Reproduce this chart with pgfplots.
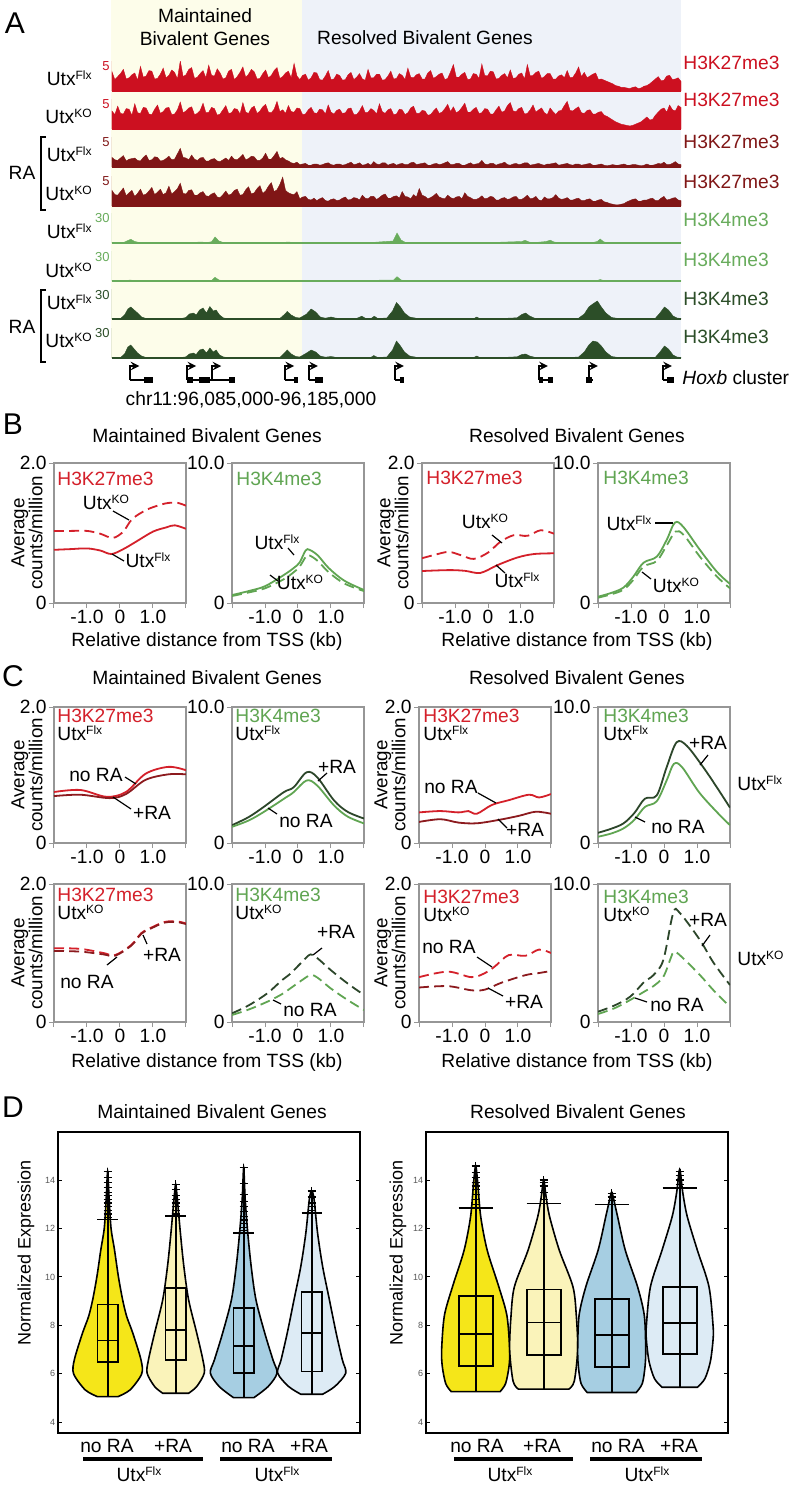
\documentclass[border=0pt]{standalone}
\usepackage{fontspec}
\setmainfont{Liberation Sans}
\usepackage{pgfplots}
\pgfplotsset{compat=1.18}

\definecolor{tred}{RGB}{204,16,32}
\definecolor{tdred}{RGB}{128,22,22}
\definecolor{tgreen}{RGB}{104,172,92}
\definecolor{tdgreen}{RGB}{44,78,40}
\definecolor{cred}{RGB}{212,32,42}
\definecolor{cdred}{RGB}{140,26,30}
\definecolor{cgreen}{RGB}{96,165,82}
\definecolor{cdgreen}{RGB}{44,70,42}
\definecolor{bgy}{RGB}{253,253,234}
\definecolor{bgb}{RGB}{238,242,249}
\definecolor{agray}{RGB}{150,150,150}
\definecolor{vA}{RGB}{245,230,25}
\definecolor{vB}{RGB}{250,243,186}
\definecolor{vC}{RGB}{166,206,226}
\definecolor{vD}{RGB}{221,235,245}

\newcommand{\fs}{\fontsize{9.6}{11}\selectfont}
\newcommand{\sx}[1]{\raisebox{3pt}{\fontsize{6}{6}\selectfont #1}}
\newcommand{\Flx}{Utx\sx{Flx}}
\newcommand{\KO}{Utx\sx{KO}}

\pgfplotsset{
 trk/.style={scale only axis, width=284.5pt, height=15pt, xmin=0, xmax=100, ymin=0, hide axis, anchor=south west},
 prof/.style={scale only axis, width=66pt, anchor=north west, xmin=-2, xmax=2, ymin=0,
   axis line style={agray, line width=0.6pt}, tick style={agray, line width=0.5pt},
   tick align=outside, major tick length=2.5pt,
   xtick={-2,-1,0,1,2}, xticklabels={,-1.0,0,1.0,}, xtick pos=bottom, ytick pos=left,
   ticklabel style={font=\fs}, xticklabel style={inner sep=1pt}, yticklabel style={inner sep=1pt},
   every axis plot/.append style={smooth, tension=0.55, line width=0.9pt, no marks}},
 kA/.style={prof, ymax=2, ytick={0,2}, yticklabels={0,2.0}},
 kB/.style={prof, ymax=10, ytick={0,10}, yticklabels={0,10.0}},
 dsh/.style={dash pattern=on 5pt off 2.6pt},
 vio/.style={scale only axis, width=151pt, height=150.5pt, anchor=north west,
   xmin=0.27, xmax=4.71, ymin=3.56, ymax=15.98, xtick=\empty,
   ytick={4,6,8,10,12,14}, yticklabels={4,6,8,10,12,14}, ytick pos=both, yticklabel pos=left,
   tick align=inside, major tick length=2pt, tick style={black, line width=0.5pt},
   axis line style={black, line width=0.8pt},
   yticklabel style={font=\fontsize{4.5}{5}\selectfont, text=black!65, inner sep=1.2pt}},
 vl/.style={draw=black, line width=0.8pt, smooth, tension=0.5},
 bx/.style={black, line width=0.9pt, sharp plot},
 om/.style={only marks, mark=+, mark size=2pt, black, mark options={line width=0.6pt}},
}

\begin{document}
\begin{tikzpicture}
\useasboundingbox (0,0) rectangle (396.5pt,-742.5pt);
\fill[white] (0,0) rectangle (396.5pt,-742.5pt);
\begin{scope}[x=0.5pt,y=-0.5pt]
 \fill[bgy] (111,0) rectangle (302,358);
 \fill[bgb] (302,0) rectangle (681,358);
\end{scope}

% ---------------- Panel A tracks ----------------
\begin{axis}[trk, ymax=5, at={(56pt,-45.5pt)}]
\addplot[fill=tred, draw=tred, line width=0.2pt] table[row sep=\\, header=false, x expr=\coordindex*0.5, y index=0]{
3.2\\1.9\\2.4\\2.9\\3.6\\2.0\\2.2\\2.7\\3.0\\1.8\\4.1\\2.3\\2.5\\3.4\\3.3\\2.0\\2.1\\2.8\\3.8\\2.2\\
2.6\\3.5\\3.1\\2.0\\5.0\\2.4\\2.7\\3.6\\3.9\\2.1\\2.3\\2.9\\3.4\\2.2\\4.3\\2.6\\2.5\\3.7\\3.0\\2.0\\
2.2\\3.3\\3.6\\1.9\\2.4\\3.1\\4.0\\2.3\\2.8\\3.6\\3.2\\2.0\\2.1\\2.9\\3.5\\2.2\\2.6\\3.4\\3.9\\2.1\\
2.4\\3.0\\3.3\\2.2\\4.6\\2.5\\1.9\\2.6\\2.8\\1.8\\2.2\\3.1\\3.0\\1.9\\1.8\\2.5\\3.4\\1.9\\2.0\\2.8\\
2.6\\1.8\\1.9\\2.7\\3.1\\1.9\\2.3\\2.9\\2.0\\1.8\\3.6\\2.2\\2.2\\2.8\\2.8\\1.8\\1.9\\2.5\\3.3\\2.0\\
2.1\\2.9\\2.6\\1.9\\3.8\\2.3\\2.2\\2.7\\2.9\\2.0\\2.0\\3.0\\3.4\\2.1\\2.4\\2.8\\3.0\\1.9\\2.1\\3.2\\
4.4\\2.3\\2.3\\2.8\\3.1\\1.9\\2.0\\2.9\\2.8\\2.1\\4.5\\2.6\\2.5\\3.3\\3.2\\2.0\\2.1\\2.6\\2.9\\2.2\\
3.5\\2.1\\2.2\\2.8\\3.0\\2.0\\4.4\\2.5\\2.6\\3.1\\3.3\\2.1\\2.4\\2.9\\2.9\\2.0\\2.0\\2.5\\2.7\\2.2\\
3.4\\2.2\\2.3\\3.0\\4.0\\2.4\\3.1\\2.2\\2.5\\2.8\\3.0\\1.9\\2.0\\1.8\\1.6\\1.4\\1.2\\0.9\\0.8\\0.6\\
0.6\\0.5\\0.4\\0.6\\0.7\\0.4\\0.5\\0.8\\0.9\\1.2\\1.6\\2.0\\2.4\\1.7\\1.8\\2.5\\2.6\\1.9\\2.0\\2.2\\
1.6\\} \closedcycle;
\addplot[tred!70, line width=0.5pt] coordinates {(0,0)(0,5)};
\addplot[tred, line width=0.8pt] coordinates {(0,0)(100,0)};
\end{axis}

\begin{axis}[trk, ymax=5, at={(56pt,-64.5pt)}]
\addplot[fill=tred, draw=tred, line width=0.2pt] table[row sep=\\, header=false, x expr=\coordindex*0.5, y index=0]{
3.0\\2.4\\3.8\\2.6\\2.5\\3.4\\3.3\\2.3\\4.2\\2.7\\2.6\\3.6\\3.5\\2.5\\2.4\\3.3\\4.0\\2.6\\2.9\\3.5\\
3.6\\2.4\\2.5\\3.2\\4.5\\2.7\\3.0\\3.5\\3.7\\2.4\\2.6\\3.1\\4.3\\2.7\\2.8\\3.6\\3.4\\2.3\\2.5\\3.2\\
3.9\\2.6\\2.7\\3.4\\3.3\\2.5\\4.4\\2.8\\2.6\\3.5\\3.8\\2.6\\3.0\\3.7\\4.1\\2.8\\2.7\\3.3\\4.6\\2.9\\
3.2\\2.6\\3.9\\2.9\\2.8\\3.5\\3.4\\2.4\\2.5\\3.2\\3.6\\2.7\\2.6\\3.3\\3.2\\2.5\\4.0\\2.8\\2.5\\3.1\\
3.3\\2.6\\2.7\\3.4\\3.5\\2.4\\2.4\\3.0\\3.9\\2.7\\2.8\\3.4\\3.1\\2.5\\4.2\\2.9\\2.6\\3.2\\3.4\\2.4\\
2.5\\3.3\\3.2\\2.4\\2.7\\3.5\\3.8\\2.6\\2.6\\3.1\\3.0\\2.3\\2.4\\3.0\\3.5\\2.6\\2.8\\3.4\\4.1\\2.9\\
3.7\\2.7\\3.0\\3.6\\4.3\\2.8\\2.8\\3.3\\3.6\\2.6\\2.7\\3.4\\3.3\\2.5\\2.5\\3.2\\3.8\\2.8\\3.0\\3.9\\
4.4\\3.0\\2.9\\3.4\\3.6\\2.5\\2.6\\3.2\\4.0\\2.8\\3.2\\3.5\\2.7\\2.4\\3.5\\2.9\\2.4\\3.0\\3.1\\3.9\\
4.6\\3.1\\3.0\\3.4\\3.7\\2.7\\2.6\\3.1\\3.2\\2.5\\2.5\\2.8\\2.9\\2.3\\2.1\\1.8\\1.5\\1.2\\1.0\\0.8\\
0.7\\0.6\\0.5\\0.6\\0.8\\1.0\\1.2\\1.6\\2.0\\1.5\\1.6\\2.3\\2.8\\3.3\\3.5\\2.8\\4.0\\3.2\\3.0\\3.9\\
3.6\\} \closedcycle;
\addplot[tred!70, line width=0.5pt] coordinates {(0,0)(0,5)};
\addplot[tred, line width=0.8pt] coordinates {(0,0)(100,0)};
\end{axis}

\begin{axis}[trk, ymax=5, at={(56pt,-83.5pt)}]
\addplot[fill=tdred, draw=tdred, line width=0.2pt] table[row sep=\\, header=false, x expr=\coordindex*0.5, y index=0]{
1.6\\1.2\\1.1\\1.5\\1.9\\1.0\\1.3\\1.4\\1.5\\1.1\\1.0\\1.6\\2.0\\1.1\\1.2\\1.7\\1.6\\1.0\\1.1\\1.4\\
1.8\\1.2\\1.3\\2.2\\3.1\\1.6\\1.5\\1.2\\2.0\\1.3\\1.1\\1.5\\1.6\\1.0\\1.0\\1.3\\1.4\\1.0\\0.9\\1.2\\
1.5\\1.1\\1.8\\1.3\\1.2\\1.6\\2.1\\1.2\\1.4\\1.8\\1.7\\1.1\\1.1\\1.5\\2.3\\1.3\\1.3\\1.9\\2.6\\1.4\\
1.6\\1.2\\1.0\\0.7\\0.6\\0.8\\0.4\\0.5\\0.6\\0.3\\0.3\\0.5\\0.5\\0.3\\0.4\\0.6\\0.7\\0.4\\0.3\\0.5\\
0.5\\0.3\\0.4\\0.6\\0.8\\0.4\\0.5\\0.7\\0.3\\0.4\\0.6\\0.3\\0.9\\0.5\\0.4\\0.7\\0.7\\0.3\\0.5\\0.6\\
0.3\\0.5\\0.6\\0.4\\0.4\\0.7\\0.8\\0.4\\0.5\\0.6\\0.7\\0.3\\0.3\\0.5\\0.6\\0.4\\0.5\\0.7\\0.9\\0.4\\
0.4\\0.6\\0.6\\0.3\\0.3\\0.5\\0.7\\0.4\\0.5\\0.6\\1.1\\0.5\\0.4\\0.6\\0.6\\0.3\\0.5\\0.6\\0.8\\0.4\\
0.3\\0.5\\0.6\\0.4\\0.5\\0.7\\0.7\\0.3\\0.4\\0.5\\0.6\\0.4\\0.3\\0.5\\0.5\\0.6\\0.7\\0.3\\0.4\\0.5\\
0.6\\0.4\\0.3\\0.5\\0.5\\0.3\\0.4\\0.5\\0.6\\0.3\\0.3\\0.4\\0.5\\0.3\\0.2\\0.3\\0.4\\0.3\\0.3\\0.4\\
0.5\\0.3\\0.3\\0.4\\0.4\\0.3\\0.2\\0.3\\0.5\\0.3\\0.3\\0.4\\0.6\\0.5\\0.8\\0.4\\0.4\\0.6\\0.9\\0.5\\
0.4\\} \closedcycle;
\addplot[tdred!70, line width=0.5pt] coordinates {(0,0)(0,5)};
\addplot[tdred, line width=0.8pt] coordinates {(0,0)(100,0)};
\end{axis}

\begin{axis}[trk, ymax=5, at={(56pt,-103pt)}]
\addplot[fill=tdred, draw=tdred, line width=0.2pt] table[row sep=\\, header=false, x expr=\coordindex*0.5, y index=0]{
2.6\\1.9\\1.8\\2.4\\3.0\\1.7\\2.2\\2.6\\1.6\\2.1\\2.8\\1.8\\2.0\\2.5\\3.1\\1.9\\2.3\\2.8\\1.9\\2.2\\
3.3\\2.0\\2.4\\2.9\\3.8\\2.1\\2.0\\2.6\\2.7\\1.8\\1.8\\2.2\\2.4\\1.7\\1.6\\2.0\\2.2\\1.5\\1.4\\1.9\\
2.5\\1.8\\2.0\\2.6\\2.8\\1.8\\1.9\\2.7\\3.2\\2.0\\2.2\\2.9\\3.4\\2.1\\2.5\\3.3\\3.9\\2.4\\2.7\\3.6\\
4.8\\2.6\\2.2\\2.0\\1.9\\2.4\\1.2\\1.5\\1.6\\1.1\\1.0\\1.3\\0.9\\1.2\\1.4\\0.9\\0.8\\1.1\\1.2\\0.9\\
1.0\\1.3\\1.5\\1.0\\1.1\\1.4\\1.3\\1.0\\1.8\\1.3\\1.2\\1.6\\1.6\\1.1\\1.4\\1.8\\2.0\\1.3\\1.3\\1.6\\
1.7\\1.3\\2.4\\1.6\\1.5\\1.2\\1.9\\1.5\\2.9\\1.8\\1.6\\1.2\\1.4\\1.7\\2.1\\1.5\\1.3\\1.2\\1.8\\1.4\\
1.2\\1.5\\1.6\\1.2\\2.2\\1.6\\1.4\\1.1\\1.1\\1.3\\1.7\\1.2\\1.3\\1.6\\1.5\\1.0\\1.0\\1.3\\1.4\\1.1\\
1.2\\1.5\\1.6\\1.1\\1.1\\1.4\\1.8\\1.2\\1.3\\1.6\\1.0\\0.9\\1.5\\1.2\\1.2\\1.4\\1.9\\1.3\\1.1\\1.2\\
1.4\\1.0\\1.0\\1.2\\1.3\\0.9\\0.9\\1.1\\1.2\\0.8\\0.8\\1.0\\1.1\\0.7\\0.6\\0.4\\0.3\\0.2\\0.2\\0.3\\
0.4\\0.7\\0.9\\1.1\\1.2\\0.8\\0.8\\1.0\\1.0\\1.2\\1.3\\0.9\\0.9\\1.3\\1.6\\1.0\\1.1\\1.3\\1.4\\1.0\\
0.9\\} \closedcycle;
\addplot[tdred!70, line width=0.5pt] coordinates {(0,0)(0,5)};
\addplot[tdred, line width=0.8pt] coordinates {(0,0)(100,0)};
\end{axis}

\begin{axis}[trk, ymax=30, at={(56pt,-121.5pt)}]
\addplot[fill=tgreen, draw=tgreen, line width=0.2pt] coordinates {
(0,0.2)(2,0.4)(2.8,2.5)(3.3,3.7)(4,1.5)(5,0.3)(10,0.2)(13.8,0.5)(15.8,1)(16.5,0.4)(17.5,1.2)(18.1,6)(18.8,2)(19.6,0.4)(22,0.3)(30,0.5)(31,1)(32,0.4)(35,0.6)(40,0.2)(45,0.3)(49.4,2)(50.1,10)(50.8,3)(51.6,0.4)(55,0.3)(64,0.6)(65,0.2)(72,1.5)(72.6,2.7)(73.3,1)(74,0.3)(76.3,1.5)(77,2.8)(77.7,1)(78.5,0.3)(84.5,0.5)(85.3,1.5)(85.8,4)(86.4,1.2)(87,0.3)(95,0.5)(97,0.4)(100,0.2)} \closedcycle;
\addplot[tgreen!80, line width=0.5pt] coordinates {(0,0)(0,30)};
\addplot[tgreen, line width=0.8pt] coordinates {(0,0)(100,0)};
\end{axis}

\begin{axis}[trk, ymax=30, at={(56pt,-140.5pt)}]
\addplot[fill=tgreen, draw=tgreen, line width=0.2pt] coordinates {
(0,0.2)(2.6,0.5)(3.2,1)(3.8,0.4)(5,0.2)(17.5,0.5)(18.1,3.7)(18.8,1)(19.6,0.2)(40,0.3)(49.5,1)(50.1,4.3)(50.8,1)(51.6,0.2)(72,0.3)(72.6,0.7)(73.3,0.2)(85.2,0.3)(85.8,1.5)(86.5,0.3)(100,0.2)} \closedcycle;
\addplot[tgreen!80, line width=0.5pt] coordinates {(0,0)(0,30)};
\addplot[tgreen, line width=0.8pt] coordinates {(0,0)(100,0)};
\end{axis}

\begin{axis}[trk, ymax=30, at={(56pt,-159.5pt)}]
\addplot[fill=tdgreen, draw=tdgreen, line width=0.2pt] coordinates {
(0,0.3)(1.5,0.5)(2.2,4)(2.8,10)(3.3,12)(3.9,9)(4.5,6)(5.2,2)(6,0.5)(8,0.3)(10,0.4)(12,0.3)(13.0,1.5)(13.6,5)(14.3,6)(14.8,4)(15.4,9)(16.0,11)(16.6,6)(17.2,12.5)(17.8,8)(18.3,9)(18.9,4)(19.6,1)(20.5,0.4)(25,0.3)(29.5,0.5)(30.2,4)(30.8,7.5)(31.5,4)(32.3,1.5)(33,1)(34.2,5)(35,10)(35.8,7)(36.6,2)(37.5,0.8)(38.5,2)(39.2,1)(40,0.4)(43,0.6)(43.9,2.8)(44.6,0.5)(45.6,0.8)(46.1,2.8)(46.7,0.5)(48.3,1)(49.3,8)(50,16.5)(50.7,12)(51.4,6)(52.3,2)(53.5,0.7)(55,0.6)(57,0.4)(60,0.3)(63.6,0.4)(64.1,2)(64.6,0.4)(68,0.4)(71.2,1.2)(72,4.5)(72.7,6)(73.4,3)(74.3,0.7)(76,0.4)(80,0.4)(82,0.8)(83,5)(83.8,12)(84.5,15)(85.3,18)(86,12)(86.8,6)(87.8,1.5)(89,0.5)(92,0.3)(95.5,0.8)(96.3,6)(97.1,12)(97.8,9)(98.6,3)(99.3,1)(100,0.5)} \closedcycle;
\addplot[tdgreen!80, line width=0.5pt] coordinates {(0,0)(0,30)};
\addplot[tdgreen, line width=0.8pt] coordinates {(0,0)(100,0)};
\end{axis}

\begin{axis}[trk, ymax=30, at={(56pt,-179pt)}]
\addplot[fill=tdgreen, draw=tdgreen, line width=0.2pt] coordinates {
(0,0.3)(1.5,0.5)(2.2,4)(2.8,11)(3.3,13)(3.9,9)(4.5,5)(5.2,2)(6,0.5)(8,0.3)(10,0.4)(12,0.3)(13.0,1.2)(13.6,4)(14.3,5)(14.8,3.5)(15.4,8)(16.0,9)(16.6,5)(17.2,10)(17.8,6)(18.3,8)(18.9,3)(19.6,1)(20.5,0.4)(25,0.3)(29.5,0.6)(30.2,4.5)(30.8,8)(31.5,4)(32.3,1.5)(33,1)(34.2,5)(35,8)(35.8,6)(36.6,2)(37.5,0.8)(38.5,1.5)(39.2,0.8)(40,0.4)(43,0.5)(44,0.8)(45.5,0.6)(46,2.5)(46.7,0.5)(48.3,1)(49.3,8)(50,17)(50.7,12)(51.4,6)(52.3,2)(53.5,0.7)(55,0.8)(57,0.5)(60,0.4)(63.6,0.5)(64.1,2)(64.6,0.5)(68,0.4)(71.2,1.2)(72,3.5)(72.7,4)(73.4,2)(74.3,0.7)(76,0.4)(80,0.4)(82,1)(83,6)(83.8,13)(84.5,17)(85.3,16)(86,12)(86.8,6)(87.8,1.5)(89,0.5)(92,0.3)(95.5,0.8)(96.3,6)(97.1,12)(97.8,9)(98.6,3)(99.3,1)(100,0.5)} \closedcycle;
\addplot[tdgreen!80, line width=0.5pt] coordinates {(0,0)(0,30)};
\addplot[tdgreen, line width=0.8pt] coordinates {(0,0)(100,0)};
\end{axis}

% gene track
\begin{axis}[trk, ymax=1, at={(56pt,-195pt)}, clip=false]
\addplot[black, line width=0.9pt] coordinates {(3.2,0.333)(7.2,0.333)};
\addplot[black, line width=3pt] coordinates {(5.6,0.333)(7.2,0.333)};
\addplot[black, line width=0.9pt] coordinates {(13.2,0.333)(21.6,0.333)};
\addplot[black, line width=3pt] coordinates {(13.2,0.333)(14.2,0.333)};
\addplot[black, line width=3pt] coordinates {(15.3,0.333)(17.3,0.333)};
\addplot[black, line width=3pt] coordinates {(20.6,0.333)(21.6,0.333)};
\addplot[black, line width=0.9pt] coordinates {(30.4,0.333)(32.7,0.333)};
\addplot[black, line width=3pt] coordinates {(31.9,0.333)(32.7,0.333)};
\addplot[black, line width=0.9pt] coordinates {(34.6,0.333)(37.1,0.333)};
\addplot[black, line width=3pt] coordinates {(35.7,0.333)(37.1,0.333)};
\addplot[black, line width=0.9pt] coordinates {(49.7,0.333)(51.3,0.333)};
\addplot[black, line width=3pt] coordinates {(50.6,0.333)(51.3,0.333)};
\addplot[black, line width=0.9pt] coordinates {(75.0,0.333)(77.5,0.333)};
\addplot[black, line width=3pt] coordinates {(75.0,0.333)(75.8,0.333)};
\addplot[black, line width=3pt] coordinates {(76.6,0.333)(77.5,0.333)};
\addplot[black, line width=0.9pt] coordinates {(83.8,0.333)(84.6,0.333)};
\addplot[black, line width=3pt] coordinates {(83.9,0.25)(83.9,0.45)};
\addplot[black, line width=0.9pt] coordinates {(96.8,0.333)(98.8,0.333)};
\addplot[black, line width=3pt] coordinates {(97.5,0.333)(98.8,0.333)};
\addplot[black, line width=0.9pt, -stealth] coordinates {(3.2,0.333)(3.2,0.8)(4.8,0.8)};
\addplot[black, line width=0.9pt, -stealth] coordinates {(13.2,0.333)(13.2,0.8)(14.8,0.8)};
\addplot[black, line width=0.9pt, -stealth] coordinates {(17.6,0.333)(17.6,0.8)(19.2,0.8)};
\addplot[black, line width=0.9pt, -stealth] coordinates {(30.4,0.333)(30.4,0.8)(32.0,0.8)};
\addplot[black, line width=0.9pt, -stealth] coordinates {(34.6,0.333)(34.6,0.8)(36.2,0.8)};
\addplot[black, line width=0.9pt, -stealth] coordinates {(49.7,0.333)(49.7,0.8)(51.3,0.8)};
\addplot[black, line width=0.9pt, -stealth] coordinates {(75.0,0.333)(75.0,0.8)(76.6,0.8)};
\addplot[black, line width=0.9pt, -stealth] coordinates {(83.8,0.333)(83.8,0.8)(85.4,0.8)};
\addplot[black, line width=0.9pt, -stealth] coordinates {(96.8,0.333)(96.8,0.8)(98.4,0.8)};
\end{axis}

% ---------------- Panel B ----------------
\begin{axis}[kA, height=70pt, at={(27pt,-231.5pt)}]
\addplot[cred, dsh] coordinates {(-2,1.03)(-1.5,1.03)(-1,1.03)(-0.6,0.99)(-0.22,0.93)(0.1,1.02)(0.37,1.2)(0.8,1.33)(1.2,1.4)(1.47,1.43)(1.75,1.43)(2,1.39)};
\addplot[cred] coordinates {(-2,0.76)(-1.5,0.77)(-1,0.78)(-0.6,0.75)(-0.26,0.70)(0.1,0.77)(0.5,0.88)(1.0,1.02)(1.4,1.08)(1.66,1.11)(2,1.06)};
\end{axis}
\begin{axis}[kB, height=70pt, at={(116pt,-231.5pt)}]
\addplot[cgreen, dsh] coordinates {(-2,0.5)(-1.5,0.75)(-1,1.05)(-0.43,1.7)(-0.13,2.2)(0.05,2.6)(0.25,3.35)(0.35,3.4)(0.6,3.0)(0.93,2.2)(1.4,1.4)(2,0.85)};
\addplot[cgreen] coordinates {(-2,0.57)(-1.5,0.85)(-1,1.2)(-0.43,2.0)(-0.13,2.5)(0.05,2.9)(0.23,3.75)(0.35,3.8)(0.6,3.4)(0.93,2.5)(1.4,1.6)(2,0.93)};
\end{axis}
\begin{axis}[kA, height=70pt, at={(211pt,-231.5pt)}]
\addplot[cred, dsh] coordinates {(-2,0.64)(-1.6,0.69)(-1.19,0.73)(-0.8,0.68)(-0.43,0.63)(0,0.72)(0.38,0.876)(0.79,0.97)(1.2,0.96)(1.6,1.04)(2,0.99)};
\addplot[cred] coordinates {(-2,0.457)(-1.19,0.47)(-0.7,0.46)(-0.23,0.43)(0.28,0.54)(0.89,0.65)(1.4,0.70)(2,0.71)};
\end{axis}
\begin{axis}[kB, height=70pt, at={(299pt,-231.5pt)}]
\addplot[cgreen, dsh] coordinates {(-2,0.38)(-1.6,0.62)(-1.23,0.95)(-0.93,1.65)(-0.62,2.6)(-0.22,3.0)(0.08,4.1)(0.35,5.1)(0.6,4.85)(1.09,3.3)(1.6,1.9)(2,1.05)};
\addplot[cgreen] coordinates {(-2,0.45)(-1.6,0.72)(-1.23,1.1)(-0.93,1.88)(-0.62,2.88)(-0.22,3.31)(0.08,4.5)(0.33,5.74)(0.58,5.45)(1.09,3.79)(1.6,2.24)(2,1.36)};
\end{axis}

% ---------------- Panel C row 1 ----------------
\begin{axis}[kA, height=68pt, at={(27pt,-353.5pt)}]
\addplot[cred] coordinates {(-2,0.75)(-1.2,0.78)(-0.41,0.68)(0.18,0.75)(0.78,1.02)(1.47,1.12)(2,1.07)};
\addplot[cdred] coordinates {(-2,0.69)(-1.2,0.71)(-0.31,0.66)(0.18,0.72)(0.78,0.93)(1.47,1.01)(2,1.01)};
\end{axis}
\begin{axis}[kB, height=68pt, at={(116pt,-353.5pt)}]
\addplot[cdgreen] coordinates {(-2,1.31)(-1.5,1.9)(-1.04,2.65)(-0.43,3.74)(-0.13,4.1)(0.26,5.2)(0.58,4.84)(1.09,3.14)(1.5,2.3)(2,1.8)};
\addplot[cgreen] coordinates {(-2,1.19)(-1.5,1.65)(-1.04,2.28)(-0.43,3.25)(-0.13,3.74)(0.26,4.6)(0.58,4.23)(1.09,2.77)(1.5,1.95)(2,1.44)};
\end{axis}
\begin{axis}[kA, height=68pt, at={(209.5pt,-353.5pt)}]
\addplot[cred] coordinates {(-2,0.45)(-1.35,0.47)(-0.8,0.45)(-0.5,0.47)(-0.25,0.43)(0.21,0.56)(0.72,0.63)(1.33,0.71)(1.64,0.67)(2,0.72)};
\addplot[cdred] coordinates {(-2,0.31)(-1.35,0.35)(-0.8,0.30)(-0.25,0.29)(0.42,0.34)(1.03,0.40)(1.54,0.46)(2,0.43)};
\end{axis}
\begin{axis}[kB, height=68pt, at={(299pt,-353.5pt)}]
\addplot[cdgreen] coordinates {(-2,0.75)(-1.6,1.05)(-1.23,1.44)(-0.9,2.2)(-0.58,3.26)(-0.22,3.5)(0.08,5.57)(0.38,7.4)(0.69,7.15)(1.19,5.57)(1.6,4.1)(2,2.6)};
\addplot[cgreen] coordinates {(-2,0.46)(-1.6,0.7)(-1.23,1.07)(-0.9,1.7)(-0.58,2.65)(-0.22,3.07)(0.08,4.6)(0.3,5.82)(0.55,5.57)(1.06,3.74)(1.6,2.28)(2,1.31)};
\end{axis}

% ---------------- Panel C row 2 ----------------
\begin{axis}[kA, height=69pt, at={(27pt,-442pt)}]
\addplot[cred, dsh] coordinates {(-2,1.07)(-1.2,1.06)(-0.5,1.0)(-0.15,0.97)(0.35,1.12)(0.65,1.29)(1.0,1.38)(1.35,1.45)(1.7,1.46)(2,1.43)};
\addplot[cdred, dsh] coordinates {(-2,1.03)(-1.2,1.02)(-0.5,0.98)(-0.15,0.96)(0.35,1.11)(0.65,1.28)(1.0,1.37)(1.35,1.44)(1.7,1.45)(2,1.42)};
\end{axis}
\begin{axis}[kB, height=69pt, at={(116pt,-442pt)}]
\addplot[cdgreen, dsh] coordinates {(-2,0.63)(-1.5,1.2)(-0.93,2.08)(-0.5,3.0)(-0.23,3.5)(0.1,4.3)(0.38,4.9)(0.6,4.6)(0.99,3.77)(1.5,2.8)(2,1.96)};
\addplot[cgreen, dsh] coordinates {(-2,0.51)(-1.5,0.9)(-0.93,1.47)(-0.5,2.0)(-0.23,2.44)(0.1,3.0)(0.38,3.4)(0.6,3.2)(0.99,2.44)(1.5,1.6)(2,0.87)};
\end{axis}
\begin{axis}[kA, height=69pt, at={(209.5pt,-442pt)}]
\addplot[cred, dsh] coordinates {(-2,0.65)(-1.13,0.73)(-0.41,0.65)(0,0.71)(0.31,0.81)(0.72,0.97)(1.23,0.96)(1.64,1.05)(2,1.0)};
\addplot[cdred, dsh] coordinates {(-2,0.50)(-1.13,0.52)(-0.41,0.46)(0,0.47)(0.5,0.57)(1.23,0.68)(1.64,0.71)(2,0.74)};
\end{axis}
\begin{axis}[kB, height=69pt, at={(299pt,-442pt)}]
\addplot[cdgreen, dsh] coordinates {(-2,0.75)(-1.5,1.2)(-1.03,1.83)(-0.6,2.9)(-0.32,3.4)(-0.02,4.5)(0.28,7.9)(0.48,7.9)(1.09,5.94)(1.5,4.3)(2,2.68)};
\addplot[cgreen, dsh] coordinates {(-2,0.58)(-1.5,1.0)(-1.03,1.59)(-0.6,2.2)(-0.32,2.6)(-0.02,3.28)(0.2,4.6)(0.3,5.1)(0.5,4.8)(1.09,3.4)(1.5,2.3)(2,1.11)};
\end{axis}

% ---------------- Panel D ----------------
\begin{axis}[vio, at={(29pt,-566pt)}]
\addplot[vl, fill=vA] coordinates {(0.85,5.06)(0.67,5.34)(0.50,6.0)(0.51,6.58)(0.63,7.68)(0.72,8.37)(0.78,9.06)(0.843,10.03)(0.90,11.13)(0.95,12.0)(0.978,13.2)(1,14.35)(1.022,13.2)(1.05,12.0)(1.10,11.13)(1.157,10.03)(1.22,9.06)(1.28,8.37)(1.37,7.68)(1.49,6.58)(1.50,6.0)(1.33,5.34)(1.15,5.06)} --cycle;
\addplot[vl, fill=vB] coordinates {(1.81,5.2)(1.69,5.48)(1.58,6.03)(1.60,6.58)(1.69,7.68)(1.81,9.06)(1.88,10.44)(1.93,11.8)(1.975,13.2)(2,13.82)(2.025,13.2)(2.07,11.8)(2.12,10.44)(2.19,9.06)(2.31,7.68)(2.40,6.58)(2.42,6.03)(2.31,5.48)(2.19,5.2)} --cycle;
\addplot[vl, fill=vC] coordinates {(2.85,5.02)(2.64,5.48)(2.51,6.03)(2.57,6.58)(2.69,7.68)(2.82,9.06)(2.89,10.44)(2.94,11.82)(2.978,13.2)(3,14.5)(3.022,13.2)(3.06,11.82)(3.11,10.44)(3.18,9.06)(3.31,7.68)(3.43,6.58)(3.49,6.03)(3.36,5.48)(3.15,5.02)} --cycle;
\addplot[vl, fill=vD] coordinates {(3.84,5.16)(3.66,5.48)(3.50,6.03)(3.55,6.58)(3.64,7.68)(3.74,9.06)(3.84,10.44)(3.914,11.82)(3.965,13.2)(4,13.55)(4.035,13.2)(4.086,11.82)(4.16,10.44)(4.26,9.06)(4.36,7.68)(4.45,6.58)(4.50,6.03)(4.34,5.48)(4.16,5.16)} --cycle;
\addplot[bx] coordinates {(0.85,6.48)(1.15,6.48)(1.15,8.86)(0.85,8.86)} --cycle;
\addplot[bx] coordinates {(0.85,7.38)(1.15,7.38)};
\addplot[bx] coordinates {(1,5.06)(1,14.35)};
\addplot[bx] coordinates {(0.85,12.37)(1.15,12.37)};
\addplot[om] coordinates {(1,12.45)(1,12.6)(1,12.75)(1,12.9)(1,13.05)(1,13.2)(1,13.35)(1,13.5)(1,13.7)(1,13.9)(1,14.1)(1,14.35)};
\addplot[bx] coordinates {(1.85,6.58)(2.15,6.58)(2.15,9.54)(1.85,9.54)} --cycle;
\addplot[bx] coordinates {(1.85,7.82)(2.15,7.82)};
\addplot[bx] coordinates {(2,5.2)(2,13.82)};
\addplot[bx] coordinates {(1.85,12.5)(2.15,12.5)};
\addplot[om] coordinates {(2,12.6)(2,12.75)(2,12.9)(2,13.05)(2,13.2)(2,13.35)(2,13.6)(2,13.82)};
\addplot[bx] coordinates {(2.85,6.03)(3.15,6.03)(3.15,8.72)(2.85,8.72)} --cycle;
\addplot[bx] coordinates {(2.85,7.16)(3.15,7.16)};
\addplot[bx] coordinates {(3,5.02)(3,14.5)};
\addplot[bx] coordinates {(2.85,11.82)(3.15,11.82)};
\addplot[om] coordinates {(3,11.9)(3,12.05)(3,12.2)(3,12.35)(3,12.5)(3,12.7)(3,12.9)(3,13.1)(3,13.4)(3,13.85)(3,14.5)};
\addplot[bx] coordinates {(3.85,6.1)(4.15,6.1)(4.15,9.37)(3.85,9.37)} --cycle;
\addplot[bx] coordinates {(3.85,7.68)(4.15,7.68)};
\addplot[bx] coordinates {(4,5.16)(4,13.55)};
\addplot[bx] coordinates {(3.85,12.65)(4.15,12.65)};
\addplot[om] coordinates {(4,12.75)(4,12.9)(4,13.05)(4,13.3)(4,13.55)};
\end{axis}

\begin{axis}[vio, at={(213pt,-566pt)}]
\addplot[vl, fill=vA] coordinates {(0.64,5.27)(0.56,5.6)(0.51,6.3)(0.50,7.0)(0.54,8.4)(0.66,9.6)(0.83,11.1)(0.926,12.5)(0.97,13.9)(1,14.58)(1.03,13.9)(1.074,12.5)(1.17,11.1)(1.34,9.6)(1.46,8.4)(1.50,7.0)(1.49,6.3)(1.44,5.6)(1.36,5.27)} --cycle;
\addplot[vl, fill=vB] coordinates {(1.63,5.37)(1.55,5.7)(1.50,7.0)(1.52,8.4)(1.57,9.6)(1.77,11.1)(1.914,12.5)(1.964,13.3)(2,14.0)(2.036,13.3)(2.086,12.5)(2.23,11.1)(2.43,9.6)(2.48,8.4)(2.50,7.0)(2.45,5.7)(2.37,5.37)} --cycle;
\addplot[vl, fill=vC] coordinates {(2.64,5.23)(2.55,5.6)(2.51,6.3)(2.50,7.0)(2.52,8.4)(2.62,9.6)(2.80,11.1)(2.914,12.5)(2.97,13.2)(3,13.5)(3.03,13.2)(3.086,12.5)(3.20,11.1)(3.38,9.6)(3.48,8.4)(3.50,7.0)(3.49,6.3)(3.45,5.6)(3.36,5.23)} --cycle;
\addplot[vl, fill=vD] coordinates {(3.74,5.45)(3.63,5.8)(3.55,6.5)(3.51,7.4)(3.51,8.0)(3.57,9.6)(3.74,11.1)(3.89,12.5)(3.956,13.5)(4,14.44)(4.044,13.5)(4.11,12.5)(4.26,11.1)(4.43,9.6)(4.49,8.0)(4.49,7.4)(4.45,6.5)(4.37,5.8)(4.26,5.45)} --cycle;
\addplot[bx] coordinates {(0.75,6.33)(1.25,6.33)(1.25,9.2)(0.75,9.2)} --cycle;
\addplot[bx] coordinates {(0.75,7.63)(1.25,7.63)};
\addplot[bx] coordinates {(1,5.27)(1,14.58)};
\addplot[bx] coordinates {(0.75,12.86)(1.25,12.86)};
\addplot[om] coordinates {(1,13.0)(1,13.2)(1,13.4)(1,13.6)(1,13.75)(1,13.9)(1,14.1)(1,14.3)(1,14.58)};
\addplot[bx] coordinates {(1.75,6.79)(2.25,6.79)(2.25,9.48)(1.75,9.48)} --cycle;
\addplot[bx] coordinates {(1.75,8.12)(2.25,8.12)};
\addplot[bx] coordinates {(2,5.37)(2,14.0)};
\addplot[bx] coordinates {(1.75,13.03)(2.25,13.03)};
\addplot[om] coordinates {(2,13.2)(2,13.5)(2,13.75)(2,13.9)(2,14.0)};
\addplot[bx] coordinates {(2.75,6.3)(3.25,6.3)(3.25,9.09)(2.75,9.09)} --cycle;
\addplot[bx] coordinates {(2.75,7.6)(3.25,7.6)};
\addplot[bx] coordinates {(3,5.23)(3,13.5)};
\addplot[bx] coordinates {(2.75,12.99)(3.25,12.99)};
\addplot[om] coordinates {(3,13.15)(3,13.3)(3,13.45)};
\addplot[bx] coordinates {(3.75,6.81)(4.25,6.81)(4.25,9.57)(3.75,9.57)} --cycle;
\addplot[bx] coordinates {(3.75,8.1)(4.25,8.1)};
\addplot[bx] coordinates {(4,5.45)(4,14.44)};
\addplot[bx] coordinates {(3.75,13.66)(4.25,13.66)};
\addplot[om] coordinates {(4,13.8)(4,14.0)(4,14.2)(4,14.35)};
\end{axis}

% ---------------- Text / annotations ----------------
\begin{scope}[x=0.5pt,y=-0.5pt, every node/.style={font=\fs, inner sep=0pt}]
\node[font=\fontsize{15}{15}\selectfont] at (15,23) {A};
\node[font=\fontsize{15}{15}\selectfont] at (13,424) {B};
\node[font=\fontsize{15}{15}\selectfont] at (13,676) {C};
\node[font=\fontsize{15}{15}\selectfont] at (13,1107) {D};
\node[align=center, font=\fontsize{9.6}{11.5}\selectfont] at (205,27) {Maintained\\Bivalent Genes};
\node at (425,38) {Resolved Bivalent Genes};
\node[anchor=east] at (92,78) {\Flx};
\node[anchor=east] at (92,116) {\KO};
\node[anchor=east] at (92,154) {\Flx};
\node[anchor=east] at (92,193) {\KO};
\node[anchor=east] at (92,231) {\Flx};
\node[anchor=east] at (92,270) {\KO};
\node[anchor=east] at (92,302) {\Flx};
\node[anchor=east] at (92,340) {\KO};
\node at (22,173) {RA};
\node at (22,327) {RA};
\draw[line width=0.6pt] (46,137) -- (41,137) -- (41,210) -- (46,210);
\draw[line width=0.6pt] (46,290) -- (41,290) -- (41,362) -- (46,362);
\foreach \yy/\cc in {66/tred,104/tred,142/tdred,181/tdred}{\node[anchor=east, font=\fontsize{6.5}{7}\selectfont, text=\cc] at (110,\yy) {5};}
\foreach \yy/\cc in {218/tgreen,257/tgreen,295/tdgreen,333/tdgreen}{\node[anchor=east, font=\fontsize{6.5}{7}\selectfont, text=\cc] at (110,\yy) {30};}
\node[anchor=west, text=tred] at (683,63) {H3K27me3};
\node[anchor=west, text=tred] at (683,100) {H3K27me3};
\node[anchor=west, text=tdred] at (683,142) {H3K27me3};
\node[anchor=west, text=tdred] at (683,182) {H3K27me3};
\node[anchor=west, text=tgreen] at (683,220) {H3K4me3};
\node[anchor=west, text=tgreen] at (683,260) {H3K4me3};
\node[anchor=west, text=tdgreen] at (683,299) {H3K4me3};
\node[anchor=west, text=tdgreen] at (683,337) {H3K4me3};
\node[anchor=west] at (682,378) {\textit{Hoxb} cluster};
\node at (251,400) {chr11:96,085,000-96,185,000};
\node at (207,436) {Maintained Bivalent Genes};
\node at (577,436) {Resolved Bivalent Genes};
\node at (207,678) {Maintained Bivalent Genes};
\node at (577,678) {Resolved Bivalent Genes};
\node at (212,1112) {Maintained Bivalent Genes};
\node at (578,1112) {Resolved Bivalent Genes};
\foreach \xx/\yy in {27/533,393/533,27/775,390/775,27/953,390/953}{\node[rotate=90, align=center, font=\fontsize{9.4}{9}\selectfont] at (\xx,\yy) {Average\\counts/million};}
\node at (207,642) {Relative distance from TSS (kb)};
\node at (577,642) {Relative distance from TSS (kb)};
\node at (207,1063) {Relative distance from TSS (kb)};
\node at (577,1063) {Relative distance from TSS (kb)};
\node[anchor=west, text=cred] at (57,479) {H3K27me3};
\node[anchor=west, text=cgreen] at (236,479) {H3K4me3};
\node[anchor=west, text=cred] at (426,478) {H3K27me3};
\node[anchor=west, text=cgreen] at (603,478) {H3K4me3};
\node at (106,502) {\KO}; \draw[line width=0.6pt] (113,511) -- (129,520);
\node at (148,560) {\Flx}; \draw[line width=0.6pt] (112,554) -- (124,561);
\node at (277,542) {\Flx}; \draw[line width=0.6pt] (288,548) -- (294,555);
\node at (300,582) {\KO}; \draw[line width=0.6pt] (270,575) -- (278,581);
\node at (485,521) {\KO}; \draw[line width=0.6pt] (492,535) -- (502,543);
\node at (517,580) {\Flx}; \draw[line width=0.6pt] (496,565) -- (505,573);
\node at (629,523) {\Flx}; \draw[line width=0.6pt] (655,523) -- (673,523);
\node at (676,585) {\KO}; \draw[line width=0.6pt] (642,572) -- (651,579);
\node[anchor=west, text=cred] at (57,716) {H3K27me3}; \node[anchor=west] at (57,733) {\Flx};
\node[anchor=west, text=cgreen] at (235,716) {H3K4me3}; \node[anchor=west] at (235,733) {\Flx};
\node[anchor=west, text=cred] at (423,716) {H3K27me3}; \node[anchor=west] at (423,733) {\Flx};
\node[anchor=west, text=cgreen] at (603,716) {H3K4me3}; \node[anchor=west] at (603,733) {\Flx};
\node at (96,775) {no RA}; \draw[line width=0.6pt] (125,777) -- (136,784);
\node at (152,813) {+RA}; \draw[line width=0.6pt] (113,797) -- (131,809);
\node at (337,767) {+RA}; \draw[line width=0.6pt] (327,773) -- (318,781);
\node at (306,821) {no RA}; \draw[line width=0.6pt] (268,808) -- (277,814);
\node at (451,787) {no RA}; \draw[line width=0.6pt] (478,793) -- (496,803);
\node at (525,830) {+RA}; \draw[line width=0.6pt] (498,819) -- (507,828);
\node at (708,743) {+RA}; \draw[line width=0.6pt] (700,765) -- (708,755);
\node at (678,827) {no RA}; \draw[line width=0.6pt] (635,817) -- (645,822);
\node[anchor=west] at (737,783) {\Flx};
\node[anchor=west, text=cred] at (57,895) {H3K27me3}; \node[anchor=west] at (57,912) {\KO};
\node[anchor=west, text=cgreen] at (235,895) {H3K4me3}; \node[anchor=west] at (235,912) {\KO};
\node[anchor=west, text=cred] at (423,897) {H3K27me3}; \node[anchor=west] at (423,914) {\KO};
\node[anchor=west, text=cgreen] at (603,897) {H3K4me3}; \node[anchor=west] at (603,914) {\KO};
\node at (162,955) {+RA}; \draw[line width=0.6pt] (143,935) -- (147,944);
\node at (87,982) {no RA}; \draw[line width=0.6pt] (107,965) -- (117,957);
\node at (336,932) {+RA}; \draw[line width=0.6pt] (313,955) -- (322,948);
\node at (310,1010) {no RA}; \draw[line width=0.6pt] (273,1000) -- (281,1004);
\node at (449,947) {no RA}; \draw[line width=0.6pt] (477,957) -- (492,967);
\node at (524,1002) {+RA}; \draw[line width=0.6pt] (488,988) -- (503,996);
\node at (708,920) {+RA}; \draw[line width=0.6pt] (702,946) -- (710,935);
\node at (677,1005) {no RA}; \draw[line width=0.6pt] (635,998) -- (647,1002);
\node[anchor=west] at (737,958) {\KO};
\node[rotate=90, font=\fontsize{9}{10}\selectfont] at (26,1253) {Normalized Expression};
\node[rotate=90, font=\fontsize{9}{10}\selectfont] at (398,1253) {Normalized Expression};
\node at (107,1446) {no RA}; \node at (173,1446) {+RA}; \node at (248,1446) {no RA}; \node at (309,1446) {+RA};
\draw[line width=2pt] (83,1459) -- (203,1459); \draw[line width=2pt] (220,1459) -- (332,1459);
\node at (139,1474) {\Flx}; \node at (277,1474) {\Flx};
\node at (477,1446) {no RA}; \node at (542,1446) {+RA}; \node at (618,1446) {no RA}; \node at (679,1446) {+RA};
\draw[line width=2pt] (454,1459) -- (573,1459); \draw[line width=2pt] (590,1459) -- (702,1459);
\node at (510,1474) {\Flx}; \node at (647,1474) {\Flx};
\end{scope}
\end{tikzpicture}
\end{document}
